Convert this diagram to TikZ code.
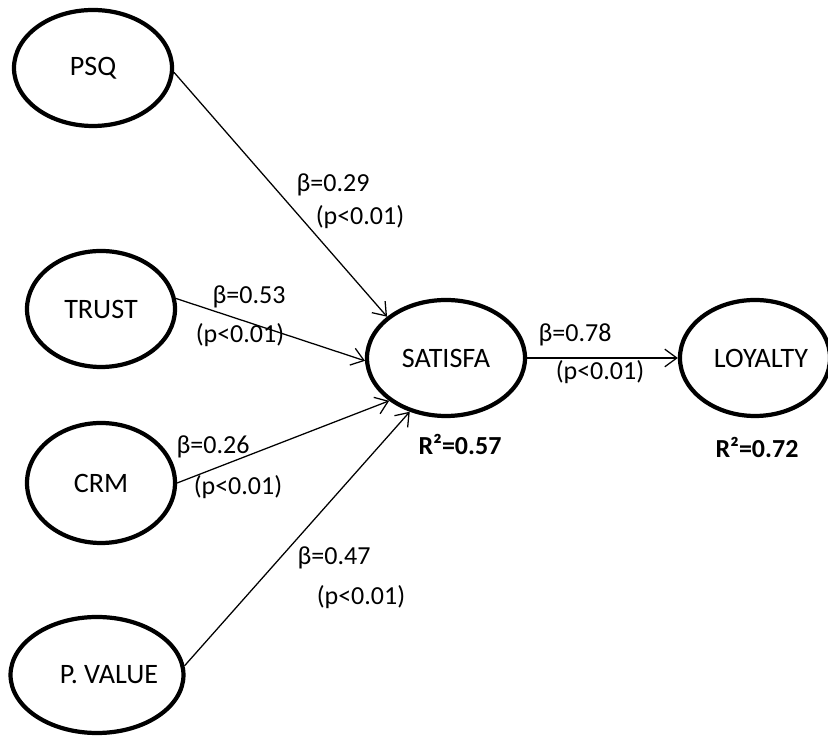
\documentclass[tikz,border=0pt]{standalone}
\usepackage{fontspec}
\setmainfont{Carlito}
\usetikzlibrary{shapes.geometric,arrows.meta}

\begin{document}
\begin{tikzpicture}[
  every node/.style={font=\fontsize{18.5}{22}\selectfont},
  construct/.style={ellipse,draw,line width=3pt,minimum width=3.7cm,minimum height=2.9cm,inner sep=0pt,font=\fontsize{20}{24}\selectfont},
  link/.style={line width=0.9pt,-{Straight Barb[length=3mm,width=4.4mm]}},
  rsq/.style={font=\fontsize{18.5}{22}\selectfont\bfseries}
]
\useasboundingbox (0,0) rectangle (20.7,18.4);

% exogenous constructs
\node[construct,minimum width=3.95cm] (psq) at (2.325,16.7) {PSQ};
\node[construct] (trust) at (2.525,10.675) {TRUST};
\node[construct,minimum height=3.0cm] (crm) at (2.525,6.325) {CRM};
\node[construct] (pvalue) at (2.425,1.525) {\hspace*{0.6cm}P. VALUE};

% endogenous constructs
\node[construct,minimum width=3.95cm] (satisfa) at (11.15,9.45) {SATISFA};
\node[construct,minimum width=3.65cm] (loyalty) at (18.875,9.45) {\hspace*{0.3cm}LOYALTY};

% structural paths
\draw[link] (psq.357) -- (satisfa.145);
\draw[link] (trust.8) -- (satisfa.182);
\draw[link] (crm.east) -- (satisfa.217);
\draw[link] (pvalue.6) -- (satisfa.236);
\draw[link] (satisfa.east) -- (loyalty.west);

% path coefficients
\node (bpsq) at (8.325,13.775) {β=0.29};
\node (ppsq) at (9.0,12.975) {(p<0.01)};
\node (btrust) at (6.225,10.975) {β=0.53};
\node (ptrust) at (6.0,10.025) {(p<0.01)};
\node (bcrm) at (5.325,7.225) {β=0.26};
\node (pcrm) at (5.95,6.225) {(p<0.01)};
\node (bpvalue) at (8.35,4.45) {β=0.47};
\node (ppvalue) at (9.025,3.475) {(p<0.01)};
\node (bsat) at (14.375,10.025) {β=0.78};
\node (psat) at (15.0,9.1) {(p<0.01)};

% explained variance
\node[rsq] (rsat) at (11.5,7.3) {R²=0.57};
\node[rsq] (rloy) at (18.925,7.225) {R²=0.72};
\end{tikzpicture}
\end{document}
